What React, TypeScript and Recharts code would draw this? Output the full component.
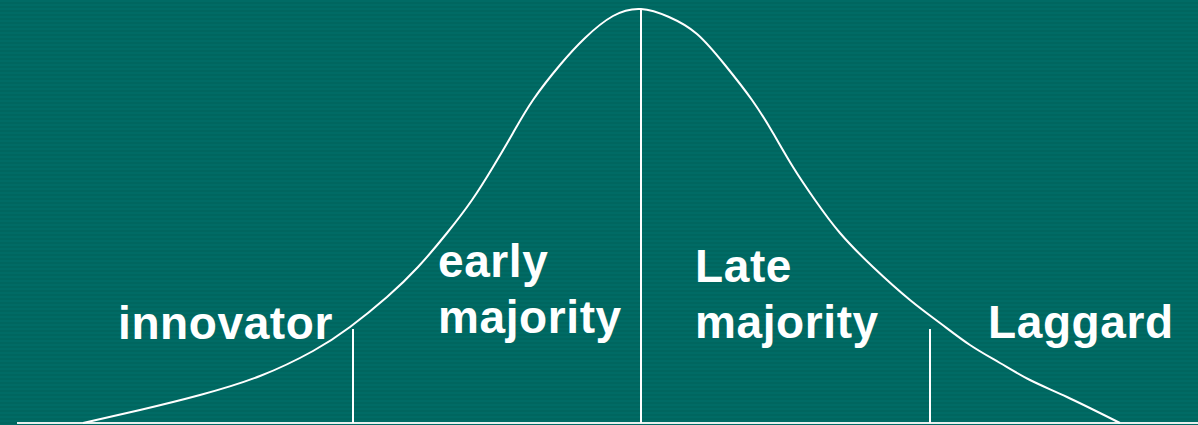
// Adopter categories on a bell curve
import { ComposedChart, Line, XAxis, YAxis, ReferenceLine, ReferenceDot } from 'recharts';

// adoption time (horizontal) and share of adopters (height above baseline)
const adoptionTime = [83, 140, 200, 260, 313, 350, 387, 418, 447, 472, 493, 513, 533, 560, 585, 613, 641, 669, 697, 725, 752, 773, 793, 815, 840, 873, 910, 940, 970, 1000, 1030, 1067, 1120];
const adopters = [0, 13, 28, 47, 72, 96, 126, 156, 190, 223, 256, 290, 323, 358, 385, 407, 414, 406, 389, 358, 323, 290, 256, 223, 190, 156, 123, 100, 78, 60, 43, 26, 0];

// borders between the categories and how high each divider reaches
const dividers = [353, 641, 930];
const dividerHeights = [94, 414, 94];

const categories = ['innovator', 'early\nmajority', 'Late\nmajority', 'Laggard'];

const curveData = adoptionTime.map((t, i) => ({ t, adopters: adopters[i] }));

// where each category name sits (left edge, first baseline)
const labelAnchors = [
  { x: 118, y: 84 },
  { x: 438, y: 146 },
  { x: 695, y: 141 },
  { x: 988, y: 85 },
];

const BG = 'repeating-linear-gradient(to bottom, #006b65 0px, #006b65 2px, #00665f 2px, #00665f 4px)';
const FONT = '"Liberation Sans", Arial, Helvetica, sans-serif';

const CategoryLabel = ({ cx, cy, text }: { cx?: number; cy?: number; text: string }) => {
  const lines = text.split('\n');
  return (
    <text x={cx} y={cy} fill="#ffffff" fontFamily={FONT} fontWeight="bold" fontSize={46} letterSpacing={0.6}>
      {lines.map((line, i) => (
        <tspan key={i} x={cx} dy={i === 0 ? 0 : 56}>
          {line}
        </tspan>
      ))}
    </text>
  );
};

export default function App() {
  return (
    <div style={{ width: 1198, height: 425, background: BG }}>
      <style>{'body{margin:0}'}</style>
      <ComposedChart
        width={1198}
        height={425}
        data={curveData}
        margin={{ top: 0, right: 0, bottom: 2, left: 0 }}
      >
        <XAxis dataKey="t" type="number" domain={[0, 1198]} hide />
        <YAxis type="number" domain={[0, 423]} hide width={0} />
        <ReferenceLine
          segment={[{ x: 17, y: 0 }, { x: 1198, y: 0 }]}
          stroke="#e8f0ee"
          strokeWidth={2}
        />
        {dividers.map((d, i) => (
          <ReferenceLine
            key={d}
            segment={[{ x: d, y: 0 }, { x: d, y: dividerHeights[i] }]}
            stroke="#ffffff"
            strokeWidth={2}
          />
        ))}
        <Line
          type="natural"
          dataKey="adopters"
          stroke="#ffffff"
          strokeWidth={2}
          dot={false}
          activeDot={false}
          isAnimationActive={false}
        />
        {categories.map((c, i) => (
          <ReferenceDot
            key={c}
            x={labelAnchors[i].x}
            y={labelAnchors[i].y}
            r={0}
            shape={(p: any) => <CategoryLabel cx={p.cx} cy={p.cy} text={c} />}
          />
        ))}
      </ComposedChart>
    </div>
  );
}
